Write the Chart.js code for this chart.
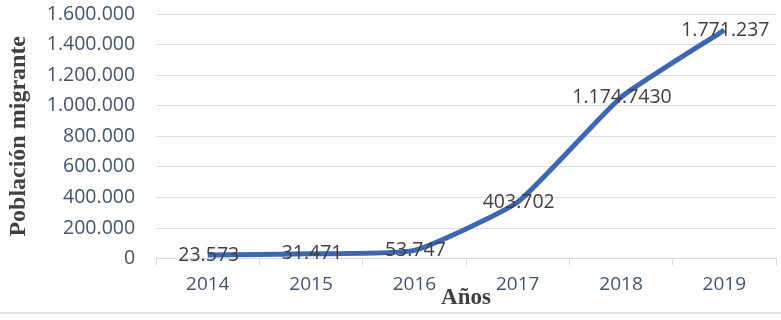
<!DOCTYPE html>
<html>
<head>
<meta charset="utf-8">
<script src="https://cdn.jsdelivr.net/npm/chart.js@4.4.1/dist/chart.umd.min.js"></script>
<style>
  html, body { margin: 0; padding: 0; background: #fff; }
  #wrap { position: relative; width: 781px; height: 312px; border-bottom: 2px solid #e3e4ea; }
</style>
</head>
<body>
<div id="wrap"><canvas id="migrantes"></canvas></div>
<script>
// Población migrante por año
const anios = ['2014', '2015', '2016', '2017', '2018', '2019'];
const poblacion = [23573, 31471, 53747, 370000, 1055000, 1495000];
// etiquetas tal como aparecen en el grafico
const etiquetas = ['23.573', '31.471', '53.747', '403.702', '1.174.7430', '1.771.237'];
const ticksY = [0, 200000, 400000, 600000, 800000, 1000000, 1200000, 1400000, 1600000];

function formatoMiles(v) {
    return v.toString().replace(/\B(?=(\d{3})+(?!\d))/g, '.');
}

// dibuja las etiquetas de datos centradas sobre cada punto
const etiquetasPlugin = {
    id: 'etiquetas',
    afterDatasetsDraw(chart) {
        const ctx = chart.ctx;
        const meta = chart.getDatasetMeta(0);
        ctx.save();
        ctx.font = '19.5px "Open Sans"';
        ctx.fillStyle = '#404040';
        ctx.textAlign = 'center';
        ctx.textBaseline = 'middle';
        meta.data.forEach((p, i) => {
            ctx.fillText(etiquetas[i], p.x + 1, p.y);
        });
        ctx.restore();
    }
};

var canvas = document.getElementById('migrantes');
if (canvas) {
    var ctx = canvas.getContext('2d');
    new Chart(ctx, {
        type: 'line',
        data: {
            labels: anios,
            datasets: [{
                label: 'Población migrante',
                data: poblacion,
                borderColor: '#3d67b1',
                borderWidth: 5,
                pointRadius: 0,
                tension: 0.15,
                fill: false
            }]
        },
        options: {
            responsive: true,
            maintainAspectRatio: false,
            animation: false,
            layout: { padding: { top: 14, right: 5, left: 4, bottom: 0 } },
            plugins: {
                legend: { display: false },
                tooltip: { enabled: false }
            },
            scales: {
                x: {
                    offset: true,
                    grid: {
                        offset: true,
                        drawOnChartArea: false,
                        color: '#d9dae2',
                        tickLength: 7
                    },
                    border: { display: true, color: '#d9dae2' },
                    ticks: {
                        color: '#44546a',
                        font: { family: 'Open Sans', size: 19 },
                        padding: 8
                    },
                    title: {
                        display: true,
                        text: 'Años',
                        color: '#404040',
                        font: { family: 'Liberation Serif', size: 23, weight: 'bold' },
                        padding: { top: -20, bottom: 0 }
                    }
                },
                y: {
                    min: 0,
                    max: 1600000,
                    afterBuildTicks(axis) {
                        axis.ticks = ticksY.map(v => ({ value: v }));
                    },
                    grid: {
                        color: '#dcdde5',
                        drawTicks: true,
                        tickLength: 21,
                        tickColor: 'rgba(0,0,0,0)'
                    },
                    border: { display: false },
                    ticks: {
                        color: '#44546a',
                        font: { family: 'Open Sans', size: 19.5 },
                        padding: 0,
                        callback: v => formatoMiles(v)
                    },
                    title: {
                        display: true,
                        text: 'Población migrante',
                        color: '#404040',
                        font: { family: 'Liberation Serif', size: 24, weight: 'bold' },
                        padding: { top: 0, bottom: 14 }
                    }
                }
            }
        },
        plugins: [etiquetasPlugin]
    });
}
</script>
</body>
</html>
